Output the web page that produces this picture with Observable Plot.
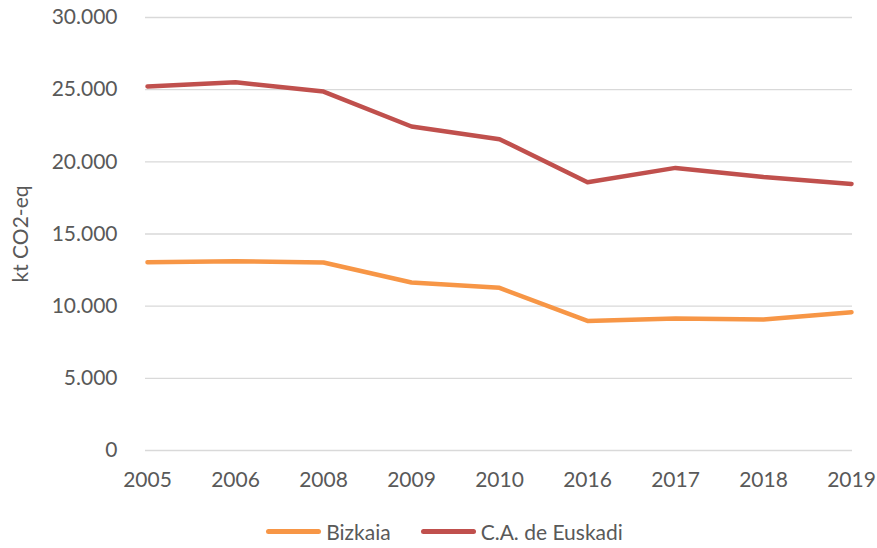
<!DOCTYPE html>
<html>
<head>
<meta charset="utf-8">
<script src="https://cdn.jsdelivr.net/npm/d3@7"></script>
<script src="https://cdn.jsdelivr.net/npm/@observablehq/plot@0.6"></script>
<style>
  html, body { margin: 0; padding: 0; background: #fff; }
  body { width: 877px; height: 548px; overflow: hidden; font-family: Lato, "Open Sans", sans-serif; }
  #legend { display: flex; justify-content: center; align-items: center; margin-top: 16px; font-size: 21px; color: #595959; padding-left: 12px; }
  .item { display: flex; align-items: center; margin: 0 15px; }
  .sw { width: 55px; height: 5px; border-radius: 3px; margin-right: 5px; }
</style>
</head>
<body>
<div id="chart"></div>
<div id="legend"></div>
<script>
const years = ["2005", "2006", "2008", "2009", "2010", "2016", "2017", "2018", "2019"];
const bizkaia = [13050, 13120, 13030, 11640, 11270, 8980, 9150, 9080, 9580];
const euskadi = [25220, 25510, 24870, 22450, 21570, 18590, 19580, 18950, 18470];
const seriesNames = ["Bizkaia", "C.A. de Euskadi"];
const seriesColors = ["#F79646", "#C0504D"];
const yTicks = [0, 5000, 10000, 15000, 20000, 25000, 30000];

const data = [
  ...years.map((y, i) => ({year: y, value: bizkaia[i], series: seriesNames[0]})),
  ...years.map((y, i) => ({year: y, value: euskadi[i], series: seriesNames[1]}))
];

const loc = d3.formatLocale({decimal: ",", thousands: ".", grouping: [3], currency: ["", "€"]});
const fmt = loc.format(",d");

const chart = Plot.plot({
  width: 877,
  height: 503,
  marginTop: 17,
  marginBottom: 53,
  marginLeft: 145,
  marginRight: 25,
  style: {fontFamily: "Lato, 'Open Sans', sans-serif", fontSize: "21px", color: "#595959", background: "#fff"},
  x: {type: "point", domain: years, padding: 0},
  y: {domain: [0, 30000]},
  color: {domain: seriesNames, range: seriesColors},
  marks: [
    Plot.gridY(yTicks, {stroke: "#d9d9d9", strokeOpacity: 1, strokeWidth: 1.3}),
    Plot.axisY(yTicks, {tickSize: 0, tickPadding: 28, tickFormat: fmt, label: "kt CO2-eq", labelArrow: "none", labelAnchor: "center", labelOffset: 132, fill: "#595959"}),
    Plot.axisX({tickSize: 0, tickPadding: 22, label: null, fill: "#595959"}),
    Plot.line(data, {x: "year", y: "value", z: "series", stroke: "series", strokeWidth: 4.5, strokeLinejoin: "round", strokeLinecap: "round"})
  ]
});
document.getElementById("chart").appendChild(chart);

const legend = document.getElementById("legend");
seriesNames.forEach((n, i) => {
  const it = document.createElement("div");
  it.className = "item";
  it.innerHTML = `<div class="sw" style="background:${seriesColors[i]}"></div><span>${n}</span>`;
  legend.appendChild(it);
});
</script>
</body>
</html>
